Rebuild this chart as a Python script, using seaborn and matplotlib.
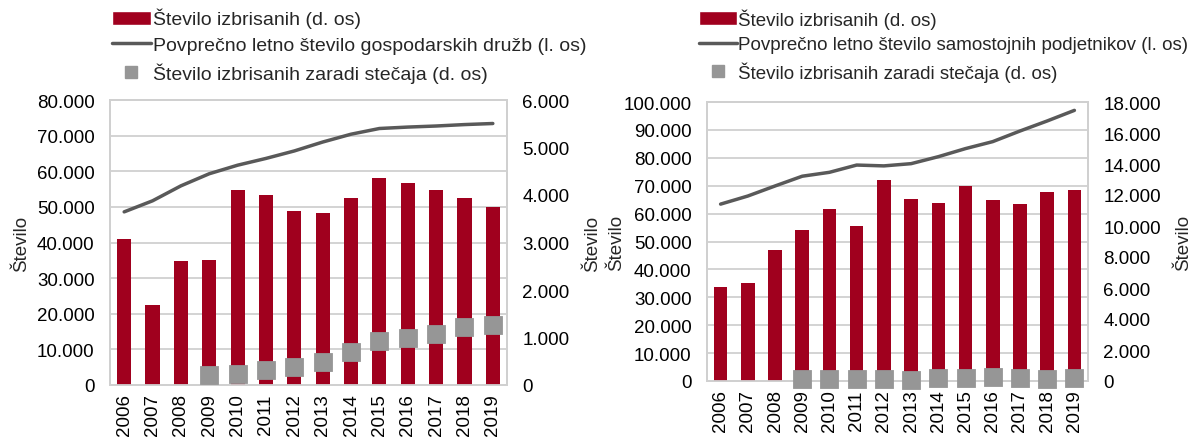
import numpy as np
import matplotlib.pyplot as plt
import seaborn as sns
from matplotlib.ticker import FuncFormatter, MultipleLocator
from matplotlib.lines import Line2D
from matplotlib.patches import Patch

years = [str(y) for y in range(2006, 2020)]

# levi graf - gospodarske druzbe
gd_izbrisani = [3080, 1690, 2620, 2635, 4110, 4000, 3660, 3615, 3930, 4350, 4250, 4095, 3945, 3750]
gd_povprecje = [48600, 51700, 55900, 59300, 61700, 63600, 65700, 68200, 70400, 72000, 72400, 72700, 73100, 73400]
gd_stecaj = [np.nan, np.nan, np.nan, 210, 230, 310, 370, 480, 690, 920, 1000, 1080, 1230, 1260]

# desni graf - samostojni podjetniki
sp_izbrisani = [6070, 6300, 8480, 9760, 11090, 9970, 13000, 11770, 11480, 12580, 11680, 11430, 12200, 12350]
sp_povprecje = [63400, 66300, 69900, 73400, 74800, 77400, 77100, 77900, 80400, 83300, 85800, 89600, 93200, 97000]
sp_stecaj = [np.nan, np.nan, np.nan, 110, 110, 150, 130, 90, 210, 215, 235, 195, 150, 170]

RED = '#A0001E'
GRAY = '#969696'
LINE = '#595959'
GRID = '#D0D0D0'

sns.set_style('white')
plt.rcParams['font.family'] = ['Liberation Sans', 'DejaVu Sans']

W, H = 1201, 439
fig = plt.figure(figsize=(W / 100, H / 100), dpi=100)


def fmt(v, pos):
    return f'{int(round(v)):,}'.replace(',', '.')


def draw(box, izbrisani, povprecje, stecaj, lmax, lstep, rmax, rstep, line_label,
         leg_x, leg_size, lab_l, lab_r):
    x0, y0, x1, y1 = box
    ax = fig.add_axes([x0 / W, 1 - y1 / H, (x1 - x0) / W, (y1 - y0) / H])
    ax2 = ax.twinx()

    # line on left axis, bars + squares on right axis
    sns.lineplot(x=np.arange(len(years)), y=povprecje, ax=ax, color=LINE, linewidth=2.5)
    sns.barplot(x=years, y=izbrisani, ax=ax2, color=RED, width=0.5, saturation=1, linewidth=0)
    sns.pointplot(x=years, y=stecaj, order=years, ax=ax2, color=GRAY, errorbar=None,
                  linestyle='none', marker='s', markersize=11.5, clip_on=False, zorder=5)

    ax.set_ylim(0, lmax)
    ax2.set_ylim(0, rmax)
    ax.yaxis.set_major_locator(MultipleLocator(lstep))
    ax2.yaxis.set_major_locator(MultipleLocator(rstep))
    ax.yaxis.set_major_formatter(FuncFormatter(fmt))
    ax2.yaxis.set_major_formatter(FuncFormatter(fmt))
    ax.set_xlim(-0.5, len(years) - 0.5)
    ax.set_xticks(range(len(years)))
    ax.set_xticklabels(years)

    ax.yaxis.grid(True, color=GRID, linewidth=1.3)
    ax.set_axisbelow(True)
    for a in (ax, ax2):
        for s in a.spines.values():
            s.set_color(GRID)
            s.set_linewidth(1.3)
        a.tick_params(length=0, labelsize=13.5, colors='black')
    ax.tick_params(axis='y', pad=11)
    ax2.tick_params(axis='y', pad=11)
    ax.tick_params(axis='x', rotation=90, pad=6)

    ax.set_xlabel('')
    ax2.set_xlabel('')
    ax.set_ylabel('Število', fontsize=13.5)
    ax2.set_ylabel('Število', fontsize=13.5)
    ax.yaxis.set_label_coords(lab_l, 0.5)
    ax2.yaxis.set_label_coords(lab_r, 0.5)

    handles = [Patch(facecolor=RED),
               Line2D([], [], color=LINE, linewidth=2.5),
               Line2D([], [], color=GRAY, marker='s', linestyle='none', markersize=8.5)]
    labels = ['Število izbrisanih (d. os)', line_label, 'Število izbrisanih zaradi stečaja (d. os)']
    fig.legend(handles, labels, loc='upper left', bbox_to_anchor=(leg_x / W, 1 - 9 / H),
               frameon=False, fontsize=leg_size, handlelength=2.0, handletextpad=0.1,
               borderpad=0, borderaxespad=0, labelspacing=0.42)


draw((110, 101, 507, 386), gd_izbrisani, gd_povprecje, gd_stecaj, 80000, 10000, 6000, 1000,
     'Povprečno letno število gospodarskih družb (l. os)', 112, 14, -0.20, 1.195)
draw((707, 103, 1088, 382), sp_izbrisani, sp_povprecje, sp_stecaj, 100000, 10000, 18000, 2000,
     'Povprečno letno število samostojnih podjetnikov (l. os)', 699, 13.5, -0.215, 1.228)

fig.savefig('out.png', dpi=100)
